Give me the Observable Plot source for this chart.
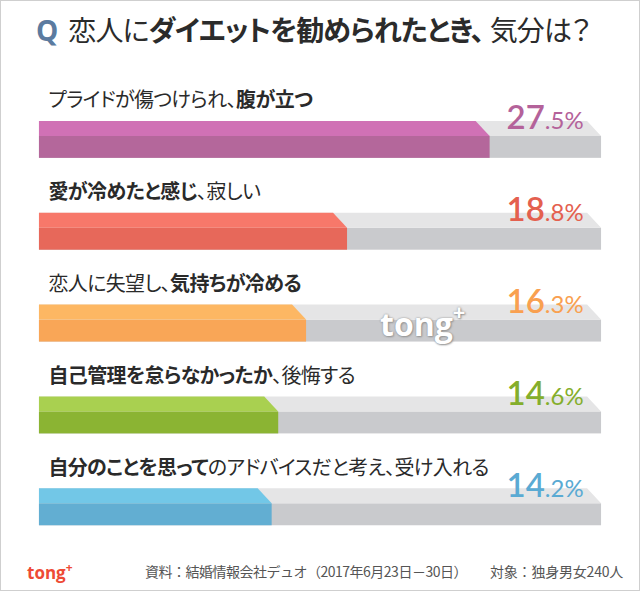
<!DOCTYPE html>
<html>
<head>
<meta charset="utf-8">
<script src="https://cdn.jsdelivr.net/npm/d3@7"></script>
<script src="https://cdn.jsdelivr.net/npm/@observablehq/plot@0.6"></script>
<style>
  html, body { margin: 0; padding: 0; background: #fff; }
  #wrap { position: relative; width: 640px; height: 591px; box-sizing: border-box; border: 1px solid #cfcfcf; overflow: hidden; font-family: "Noto Sans CJK JP", sans-serif; }
  #title { position: absolute; left: 35px; top: 8px; font-size: 28px; color: #2b2b2b; white-space: nowrap; font-feature-settings: "palt"; letter-spacing: -0.9px; }
  #title .q { font-family: "Open Sans", sans-serif; font-weight: 700; color: #5b7ba0; margin-right: 10px; letter-spacing: 0; }
  #title b { font-weight: 700; }
  #title .c { margin-right: 6px; }
  #chart { position: absolute; left: -1px; top: 61px; }
  #wm { position: absolute; left: 379px; top: 299px; font-family: "Open Sans", sans-serif; font-weight: 700; font-size: 32px; color: #fff; text-shadow: 0 0 2px #8a8a8a, 1px 1px 2px #999; }
  #wm sup { font-size: 22px; position: relative; top: -4px; }
  #logo { position: absolute; left: 26px; top: 558px; font-family: "Open Sans", sans-serif; font-weight: 700; font-size: 17px; color: #ee4a35; }
  #logo sup { font-size: 12px; }
  #src { position: absolute; left: 144px; top: 560px; font-size: 14px; color: #555; white-space: nowrap; letter-spacing: -0.5px; }
  #tgt { position: absolute; left: 489px; top: 560px; font-size: 14px; color: #555; white-space: nowrap; letter-spacing: -0.2px; }
</style>
</head>
<body>
<div id="wrap">
  <div id="title"><span class="q">Q</span>恋人に<b>ダイエットを勧められたとき<span class="c">、</span></b>気分は？</div>
  <div id="chart"></div>
  <div id="wm">tong<sup>+</sup></div>
  <div id="logo">tong<sup>+</sup></div>
  <div id="src">資料：結婚情報会社デュオ（2017年6月23日－30日）</div>
  <div id="tgt">対象：独身男女240人</div>
</div>
<script>
// ---- data ----
const categories = [
  "プライドが傷つけられ、腹が立つ",
  "愛が冷めたと感じ、寂しい",
  "恋人に失望し、気持ちが冷める",
  "自己管理を怠らなかったか、後悔する",
  "自分のことを思ってのアドバイスだと考え、受け入れる"
];
const boldParts = ["腹が立つ", "愛が冷めたと感じ", "気持ちが冷める", "自己管理を怠らなかったか", "自分のことを思って"];
const values = [27.5, 18.8, 16.3, 14.6, 14.2];
const topColors = ["#d071b5", "#f7786a", "#fdb763", "#a9d050", "#72c7e7"];
const bottomColors = ["#b4679b", "#e7685a", "#f9a657", "#8bb433", "#62aed2"];
const textColors = ["#b4629a", "#e4604f", "#f9a050", "#84ae2c", "#5aaad3"];
const xMax = 34.3;

// ---- layout constants (in row units / px) ----
const rowPx = 92;
const topFace = 15 / rowPx;
const barBottom = 37 / rowPx;
const slantPx = 14;
const pxPerUnit = (601 - 38) / xMax;
const slant = slantPx / pxPerUnit;

const rows = categories.map((c, i) => ({i, c, v: values[i], top: topColors[i], bot: bottomColors[i], tc: textColors[i], label: values[i].toFixed(1) + "%"}));
const face = (getX) => rows.flatMap(r => [
  {i: r.i, y: r.i, x2: getX(r) - slant, fill: r},
  {i: r.i, y: r.i + topFace, x2: getX(r), fill: r}
]);
const grayTop = face(() => xMax);
const colorTop = face(r => r.v);

const svg = Plot.plot({
  width: 640,
  height: 482,
  x: {domain: [0, xMax], range: [39, 602], axis: null},
  y: {domain: [0, 5], range: [59, 59 + rowPx * 5], axis: null},
  color: {type: "identity"},
  marks: [
    Plot.rect(rows, {x1: 0, x2: xMax, y1: d => d.i + topFace, y2: d => d.i + barBottom, fill: "#c9cacd"}),
    Plot.areaX(grayTop, {y: "y", x1: 0, x2: "x2", z: "i", fill: "#e5e5e6"}),
    Plot.rect(rows, {x1: 0, x2: "v", y1: d => d.i + topFace, y2: d => d.i + barBottom, fill: "bot"}),
    Plot.areaX(colorTop, {y: "y", x1: 0, x2: "x2", z: "i", fill: d => d.fill.top}),
    Plot.text(rows, {x: 0, y: d => d.i - 14 / rowPx, text: "c", textAnchor: "start", lineAnchor: "bottom", dx: 9, fontSize: 20, fill: "#2a2a2a", fontFamily: "Noto Sans CJK JP"}),
    Plot.text(rows, {x: xMax, y: d => d.i + 8 / rowPx, text: "label", textAnchor: "end", lineAnchor: "bottom", dx: -18, fill: "tc", fontFamily: "Lato"})
  ]
});

// rich text: split labels into bold / normal spans, percent into big / small spans
d3.select(svg).selectAll("text").each(function () {
  const t = this.textContent;
  const k = categories.indexOf(t);
  const sel = d3.select(this);
  if (k >= 0) {
    const b = boldParts[k];
    const pos = t.indexOf(b);
    const parts = [[t.slice(0, pos), false], [b, true], [t.slice(pos + b.length), false]].filter(p => p[0].length);
    sel.text(null).style("font-feature-settings", '"palt"').style("letter-spacing", "-0.6px");
    parts.forEach(([s, isBold]) => sel.append("tspan").attr("font-weight", isBold ? 700 : 400).text(s));
  } else if (/%$/.test(t)) {
    const m = t.match(/^(\d+)(\.\d%)$/);
    if (m) {
      sel.text(null);
      sel.append("tspan").attr("font-size", 33).attr("font-weight", 600).text(m[1]);
      sel.append("tspan").attr("font-size", 24).attr("font-weight", 400).text(m[2]);
    }
  }
});

document.getElementById("chart").appendChild(svg);
</script>
</body>
</html>
